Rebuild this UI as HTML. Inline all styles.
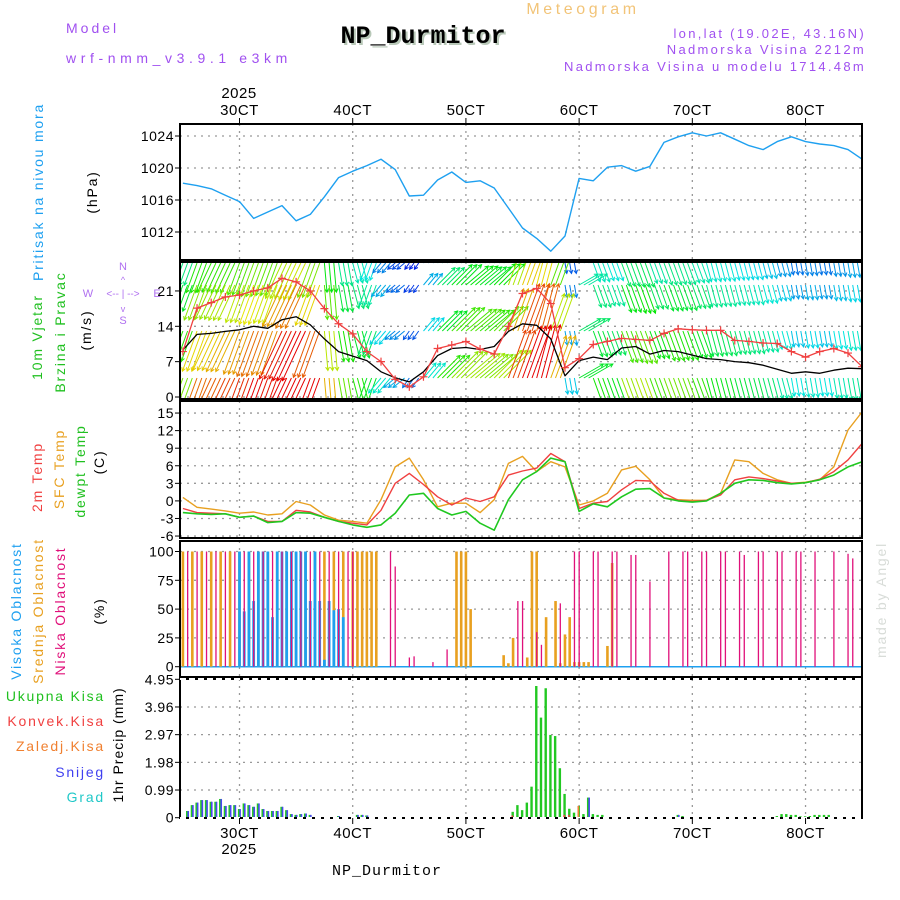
<!DOCTYPE html>
<html><head><meta charset="utf-8"><title>Meteogram NP_Durmitor</title>
<style>
html,body{margin:0;padding:0;background:#fff;}
svg{display:block;font-family:"Liberation Sans",sans-serif;}
.tk{font-size:14px;fill:#000;letter-spacing:0.5px;}
.lb{font-size:14px;letter-spacing:1.8px;}
</style></head>
<body>
<svg id="chart" width="900" height="900" viewBox="0 0 900 900" xmlns="http://www.w3.org/2000/svg">
  <rect x="0" y="0" width="900" height="900" fill="#fff"/>
  <!-- header -->
  <text x="66" y="33" class="lb" fill="#a050f0" style="letter-spacing:3px">Model</text>
  <text x="66" y="63" class="lb" fill="#a050f0" style="letter-spacing:4.6px">wrf-nmm_v3.9.1 e3km</text>
  <text x="583" y="14" class="lb" fill="#f2c478" text-anchor="middle" style="font-size:16px;letter-spacing:3.6px">Meteogram</text>
  <text x="425" y="45" text-anchor="middle" fill="#b8c8b8" style="font-family:'Liberation Mono',monospace;font-weight:bold;font-size:25px">NP_Durmitor</text>
  <text x="423" y="43" text-anchor="middle" fill="#000" style="font-family:'Liberation Mono',monospace;font-weight:bold;font-size:25px">NP_Durmitor</text>
  <text x="866" y="38" class="lb" fill="#a050f0" text-anchor="end" style="font-size:13px;letter-spacing:2.3px">lon,lat (19.02E, 43.16N)</text>
  <text x="866" y="54" class="lb" fill="#a050f0" text-anchor="end" style="font-size:13px;letter-spacing:2.3px">Nadmorska Visina 2212m</text>
  <text x="866" y="71" class="lb" fill="#a050f0" text-anchor="end" style="font-size:13px;letter-spacing:2.3px">Nadmorska Visina u modelu 1714.48m</text>

  <!-- left labels -->
  <text transform="translate(43,192) rotate(-90)" text-anchor="middle" class="lb" fill="#1ea0f0">Pritisak na nivou mora</text>
  <text transform="translate(97,192) rotate(-90)" text-anchor="middle" class="lb" fill="#000">(hPa)</text>
  <text transform="translate(42,337) rotate(-90)" text-anchor="middle" class="lb" fill="#20c020">10m Vjetar</text>
  <text transform="translate(65,332) rotate(-90)" text-anchor="middle" class="lb" fill="#20c020">Brzina i Pravac</text>
  <text transform="translate(91,330) rotate(-90)" text-anchor="middle" class="lb" fill="#000">(m/s)</text>
  <g fill="#b070f0" font-size="11" text-anchor="middle">
    <text x="123" y="270">N</text><text x="123" y="324" >S</text>
    <text x="88" y="297">W</text><text x="157" y="297">E</text>
    <text x="123" y="297" style="font-size:10px">&lt;-- | --&gt;</text>
    <text x="123" y="283" style="font-size:9px">^</text>
    <text x="123" y="312" style="font-size:9px">v</text>
  </g>
  <text transform="translate(42,477) rotate(-90)" text-anchor="middle" class="lb" fill="#f04040">2m Temp</text>
  <text transform="translate(64,469) rotate(-90)" text-anchor="middle" class="lb" fill="#e8a020">SFC Temp</text>
  <text transform="translate(85,471) rotate(-90)" text-anchor="middle" class="lb" fill="#20c020">dewpt Temp</text>
  <text transform="translate(104,462) rotate(-90)" text-anchor="middle" class="lb" fill="#000">(C)</text>
  <text transform="translate(21,611) rotate(-90)" text-anchor="middle" class="lb" fill="#1ea0f0">Visoka Oblacnost</text>
  <text transform="translate(43,611) rotate(-90)" text-anchor="middle" class="lb" fill="#e8a020">Srednja Oblacnost</text>
  <text transform="translate(65,611) rotate(-90)" text-anchor="middle" class="lb" fill="#e0107a">Niska Oblacnost</text>
  <text transform="translate(104,611) rotate(-90)" text-anchor="middle" class="lb" fill="#000">(%)</text>
  <text x="105" y="701" text-anchor="end" class="lb" fill="#20c020">Ukupna Kisa</text>
  <text x="105" y="726" text-anchor="end" class="lb" fill="#f04040">Konvek.Kisa</text>
  <text x="105" y="751" text-anchor="end" class="lb" fill="#f08030">Zaledj.Kisa</text>
  <text x="105" y="777" text-anchor="end" class="lb" fill="#4040f0">Snijeg</text>
  <text x="105" y="802" text-anchor="end" class="lb" fill="#20c8c8">Grad</text>
  <text transform="translate(123,745) rotate(-90)" text-anchor="middle" class="lb" fill="#000" style="letter-spacing:1px">1hr Precip (mm)</text>
  <text transform="translate(886,600) rotate(-90)" text-anchor="middle" class="lb" fill="#d8dcd8">made by Angel</text>

  <text x="239" y="98" text-anchor="middle" class="tk" style="font-size:15px">2025</text>
  <text x="239" y="854" text-anchor="middle" class="tk" style="font-size:15px">2025</text>
  <text x="387" y="875" text-anchor="middle" style="font-family:'Liberation Mono',monospace;font-size:15px;letter-spacing:1px">NP_Durmitor</text>
  <g id="plot"></g>
</svg>
<script>
// ---------- data ----------
const dayLabels = ["30CT","40CT","50CT","60CT","70CT","80CT"];
const dayHours = [0,24,48,72,96,120];
// 3-hourly from hour -12 (relative to 3 Oct 00z) to 132
const hours3 = [-12,-9,-6,-3,0,3,6,9,12,15,18,21,24,27,30,33,36,39,42,45,48,51,54,57,60,63,66,69,72,75,78,81,84,87,90,93,96,99,102,105,108,111,114,117,120,123,126,129,132];
const pressure = [1018.1,1017.8,1017.4,1016.6,1015.8,1013.7,1014.5,1015.3,1013.4,1014.2,1016.4,1018.8,1019.6,1020.3,1021.1,1019.8,1016.5,1016.6,1018.5,1019.5,1018.2,1018.4,1017.5,1015.0,1012.5,1011.2,1009.6,1011.5,1018.7,1018.4,1020.1,1020.3,1019.6,1020.2,1023.2,1023.9,1024.4,1024.0,1024.4,1023.6,1022.8,1022.3,1023.3,1023.9,1023.3,1023.0,1022.8,1022.3,1021.1];
const windSpeed = [9.3,12.4,12.6,13,13.3,14,13.6,15.3,15.9,14.3,11.5,9,8.1,7.2,5,3.8,3,5,8.2,9.6,9.8,9.4,10,13,14.5,14.2,11.5,4.2,7.2,7.9,7.4,9.7,10,8.5,9.2,9,8.3,7.6,7.4,7,6.8,6.3,5.5,4.7,5,4.7,5.3,5.7,5.6];
const windGust = [9,17.6,18.7,19.8,20.2,21,21.6,23.5,22.8,21,17.5,14.5,12.5,9,7,3.5,2,4,9.6,10.3,11,9.5,8.5,14,20.5,21.5,18.5,5.8,7.6,10.4,11,11.6,11.4,11.2,12.6,13.5,13.3,13.2,13.2,11.2,11,10.7,10.6,9,7.9,9,9.6,8.7,6];
const windDir = [200,200,205,205,200,200,200,205,205,200,175,170,165,200,220,230,215,40,45,45,50,50,45,20,20,15,20,170,60,160,160,160,160,160,160,160,160,165,165,165,165,165,165,170,170,170,170,170,170];
const levelFactor = [0.85,1,1.15,1.3];
const tempSfc = [0.6,-1.1,-1.4,-1.7,-2.1,-1.9,-2.4,-2.2,-0.1,-0.7,-2.4,-3.3,-3.5,-3.8,0.2,5.8,7.3,3.6,-1,-0.4,-0.4,-2,0.2,6.4,7.6,5,6.7,5.8,-0.7,0,1.3,5.3,5.9,3.6,0.5,0.2,0.1,0.1,1.3,7,6.7,4.7,3.6,3,3.2,3.6,5.8,12.1,15.2];
const temp2m = [-1.3,-2,-2.1,-2.2,-2.8,-2.6,-3.5,-3.5,-1.6,-1.9,-2.8,-3.5,-3.8,-4.1,-1.6,3,4.7,2.8,0.7,-0.7,0.5,-0.1,0.7,4.4,5.1,5.6,8.1,6.7,-1.3,-0.4,-0.1,1.9,3.5,3.4,1.3,0.1,-0.1,0.1,1,3.6,4.1,3.8,3.4,3,3.1,3.7,5,7,9.8];
const dewpt = [-2,-2.2,-2.3,-2.2,-2.8,-2.6,-3.7,-3.5,-2,-2.1,-2.8,-3.5,-4.1,-4.5,-4.1,-2.1,1,1.3,-1.3,-2.4,-1.8,-3.8,-5,0.2,3.6,5,7.3,6.7,-1.8,-0.5,-1,0.7,2,2.1,0.5,0,-0.2,0,1.3,3,3.6,3.5,3.1,2.9,3.1,3.6,4.4,5.8,6.7];
// cloud cover (%), [hour, value]
const midHours = [-12,-10,-8,-6,-4,-2,0,2,4,6,8,10,12,14,16,18,20,22,24,25,26,27,28,29,46,47,48,49,56,57,58,61,62,63,65,67,68,69,70,71,72,73,74,78,79];
const midVals  = [100,100,100,100,100,100,100,100,100,100,100,100,100,100,100,100,100,100,100,100,100,100,100,100,100,100,100,50,10,3,25,8,100,100,43,57,3,28,43,4,4,4,4,18,90];
const highHours = [0,1,2,3,4,5,6,7,8,9,10,11,12,13,14,15,16,17,18,19,20,21,22,23];
const highVals  = [100,48,100,57,100,100,100,43,100,100,100,100,100,100,100,57,100,57,6,57,49,50,43,0];
const lowHours = [-11,-9,-7,-5,-3,-1,1,3,5,7,9,11,13,15,17,19,21,23,24,32,33,36,37,41,44,59,60,63,64,68,71,72,75,76,79,80,83,84,87,91,94,95,98,99,102,103,106,107,110,111,114,115,118,119,122,126,129,130];
const lowVals  = [100,100,100,100,100,100,100,100,100,100,100,100,100,100,100,100,100,100,100,100,87,8,9,4,15,57,57,30,19,55,100,100,100,100,100,100,97,97,74,100,100,100,100,100,100,100,100,97,100,100,100,100,100,100,100,100,98,94];
// precipitation (mm/h), [hour, value]
const precipHours = [-11,-10,-9,-8,-7,-6,-5,-4,-3,-2,-1,0,1,2,3,4,5,6,7,8,9,10,11,12,13,14,15,21,25,26,27,58,59,60,61,62,63,64,65,66,67,68,69,70,71,72,73,74,75,76,77,93,94,114,115,116,117,118,119,120,121,122,123,124,125];
const precipTotal = [0.24,0.45,0.54,0.63,0.63,0.57,0.57,0.67,0.42,0.45,0.45,0.31,0.51,0.45,0.39,0.51,0.31,0.24,0.24,0.24,0.39,0.27,0.13,0.1,0.13,0.15,0.1,0.06,0.1,0.1,0.08,0.21,0.45,0.27,0.54,1.11,4.71,3.58,4.63,2.96,2.92,1.77,0.85,0.32,0.18,0.42,0.13,0.72,0.13,0.1,0.1,0.1,0.06,0.06,0.13,0.13,0.1,0.1,0.05,0.05,0.06,0.1,0.1,0.1,0.1];
const snowHours = [-11,-10,-9,-8,-7,-6,-5,-4,-3,-2,-1,0,1,2,3,4,5,6,7,8,9,10,11,12,13,14,15,21,25,26,27,74,93];
const snowVals = [0.24,0.45,0.54,0.63,0.63,0.57,0.57,0.67,0.42,0.45,0.45,0.31,0.51,0.45,0.39,0.51,0.31,0.24,0.24,0.24,0.39,0.27,0.13,0.1,0.13,0.15,0.1,0.06,0.1,0.1,0.08,0.72,0.1];
const convHours = [58,69,70];
const convVals = [0.08,0.1,0.1];
const frzHours = [72];
const frzVals = [0.42];
const pTicks = [1012,1016,1020,1024];
const wTicks = [0,7,14,21];
const tTicks = [-6,-3,0,3,6,9,12,15];
const cTicks = [0,25,50,75,100];
const rTicks = [0,0.99,1.98,2.97,3.96,4.95];

// ---------- axes ----------
const X0 = 180, X1 = 862;
const xOf = h => 239.5 + h * 4.717;
const panels = [
  {name:'pressure', top:124, bot:260, y:v => 232 - (v - 1012) * 8, ticks:pTicks},
  {name:'wind', top:262, bot:399, y:v => 397 - v * 5.05, ticks:wTicks},
  {name:'temperature', top:401, bot:538, y:v => 500.9 - v * 5.857, ticks:tTicks},
  {name:'cloud', top:541, bot:677, y:v => 666.7 - v * 1.152, ticks:cTicks},
  {name:'precip', top:679, bot:818, y:v => 817.7 - v * 27.96, ticks:rTicks}
];
const NS = 'http://www.w3.org/2000/svg';
const plot = document.getElementById('plot');
function mk(tag, attrs, parent) {
  const e = document.createElementNS(NS, tag);
  for (const k in attrs) e.setAttribute(k, attrs[k]);
  (parent || plot).appendChild(e);
  return e;
}
const defs = mk('defs', {});
panels.forEach((p, i) => {
  const cp = mk('clipPath', {id: 'clip' + i}, defs);
  mk('rect', {x: X0, y: p.top, width: X1 - X0, height: p.bot - p.top}, cp);
});

panels.forEach((p, i) => {
  const g = mk('g', {});
  
  
  p.g = g;
  dayHours.forEach(h => {
    const l = mk('line', {x1: xOf(h), x2: xOf(h), y1: p.top, y2: p.bot, stroke: '#999', 'stroke-width': 1.3, 'stroke-dasharray': '2,5'}, g);
    
    
  });
  p.ticks.forEach(v => {
    const y = p.y(v);
    const l = mk('line', {x1: X0, x2: X1, y1: y, y2: y, stroke: '#999', 'stroke-width': 1.3, 'stroke-dasharray': '2,5'}, g);
    
    
    mk('line', {x1: X0 - 5, x2: X0, y1: y, y2: y, stroke: '#000', 'stroke-width': 1}, g);
    const t = mk('text', {x: X0 - 6, y: y + 5, 'text-anchor': 'end', class: 'tk'}, g);
    t.textContent = String(v);
    
    
  });
  p.content = mk('g', {'clip-path': 'url(#clip' + i + ')'}, g);
});

function line(p, xs, ys, color, w, name) {
  const pts = xs.map((h, i) => xOf(h).toFixed(1) + ',' + p.y(ys[i]).toFixed(1)).join(' ');
  const e = mk('polyline', {points: pts, fill: 'none', stroke: color, 'stroke-width': w, 'stroke-linejoin': 'round'}, p.content);
  
  
  return e;
}
line(panels[0], hours3, pressure, '#1ea0f0', 1.4, 'pressure-line');

// wind arrows
const pw = panels[1];
const levelY = [263, 285, 331, 378];
function speedColor(s) {
  const h = Math.max(0, Math.min(270, 270 - s * 15));
  return 'hsl(' + h + ',100%,45%)';
}
const arrowsG = mk('g', {}, pw.content);


levelY.forEach((by, li) => {
  for (let h = -12; h <= 132; h++) {
    const k = Math.min(hours3.length - 1, Math.floor((h + 12) / 3));
    const s = windSpeed[k] * levelFactor[li];
    const th = windDir[k] * Math.PI / 180;
    const L = Math.min(s * 3, 55);
    const x = xOf(h), x2 = x + L * Math.sin(th), y2 = by - L * Math.cos(th);
    const c = speedColor(s);
    const a1 = th + Math.PI - 0.5, a2 = th + Math.PI + 0.5;
    const d = 'M' + x.toFixed(1) + ',' + by + 'L' + x2.toFixed(1) + ',' + y2.toFixed(1) +
      'M' + (x2 + 4 * Math.sin(a1)).toFixed(1) + ',' + (y2 - 4 * Math.cos(a1)).toFixed(1) + 'L' + x2.toFixed(1) + ',' + y2.toFixed(1) +
      'L' + (x2 + 4 * Math.sin(a2)).toFixed(1) + ',' + (y2 - 4 * Math.cos(a2)).toFixed(1);
    const e = mk('path', {d: d, stroke: c, 'stroke-width': 1, fill: 'none'}, arrowsG);
    
    
  }
});
line(pw, hours3, windSpeed, '#000', 1.3, 'wind-speed-line');
line(pw, hours3, windGust, '#f04040', 1.3, 'wind-gust-line');
hours3.forEach((h, i) => {
  const x = xOf(h), y = pw.y(windGust[i]);
  const e = mk('path', {d: 'M' + (x - 4) + ',' + y + 'h8M' + x + ',' + (y - 4) + 'v8', stroke: '#f04040', 'stroke-width': 1.2}, pw.content);
  
  
});

// temperature
const pt = panels[2];
line(pt, hours3, tempSfc, '#e8a020', 1.4, 'sfc-temp-line');
line(pt, hours3, temp2m, '#f04040', 1.4, '2m-temp-line');
line(pt, hours3, dewpt, '#20c820', 1.6, 'dewpoint-line');

// cloud bars
const pc = panels[3];
mk('line', {x1: X0, x2: X1, y1: pc.y(0), y2: pc.y(0), stroke: '#1ea0f0', 'stroke-width': 1.5}, pc.content);
function bars(p, hs, vs, color, w, off, name) {
  hs.forEach((h, i) => {
    const y = p.y(vs[i]), y0 = p.y(0);
    const e = mk('rect', {x: xOf(h) + off, y: y, width: w, height: Math.max(0, y0 - y), fill: color}, p.content);
    
    
  });
}
bars(pc, midHours, midVals, '#e8a020', 2.6, -1.3, 'mid-cloud-bar');
bars(pc, highHours, highVals, '#1ea0f0', 2.8, -1.4, 'high-cloud-bar');
bars(pc, lowHours, lowVals, '#e0107a', 1.3, -0.6, 'low-cloud-bar');

// precipitation
const pr = panels[4];
bars(pr, precipHours, precipTotal, '#22c822', 2.4, -1.6, 'total-precip-bar');
bars(pr, snowHours, snowVals, '#4848f0', 1.6, -0.2, 'snow-bar');
bars(pr, convHours, convVals, '#f04040', 1.6, -1.6, 'convective-precip-bar');
bars(pr, frzHours, frzVals, '#f08030', 1.6, -1.6, 'freezing-precip-bar');

// panel frames
panels.forEach(p => {
  const r = mk('rect', {x: X0, y: p.top, width: X1 - X0, height: p.bot - p.top, fill: 'none', stroke: '#000', 'stroke-width': 2}, p.g);
  
  
});
mk('line', {x1: X0, x2: X1, y1: 679, y2: 679, stroke: '#fff', 'stroke-width': 2, 'stroke-dasharray': '6,3'});
mk('line', {x1: X0, x2: X1, y1: 818, y2: 818, stroke: '#fff', 'stroke-width': 2, 'stroke-dasharray': '6,3'});

// x-axis day labels
dayHours.forEach((h, i) => {
  const x = xOf(h);
  mk('line', {x1: x, x2: x, y1: 118, y2: 124, stroke: '#000', 'stroke-width': 1});
  mk('line', {x1: x, x2: x, y1: 818, y2: 824, stroke: '#000', 'stroke-width': 1});
  const t1 = mk('text', {x: x, y: 115, 'text-anchor': 'middle', class: 'tk', style: 'font-size:15px'});
  t1.textContent = dayLabels[i];
  
  
  const t2 = mk('text', {x: x, y: 838, 'text-anchor': 'middle', class: 'tk', style: 'font-size:15px'});
  t2.textContent = dayLabels[i];
  
  
});
</script>
</body></html>
